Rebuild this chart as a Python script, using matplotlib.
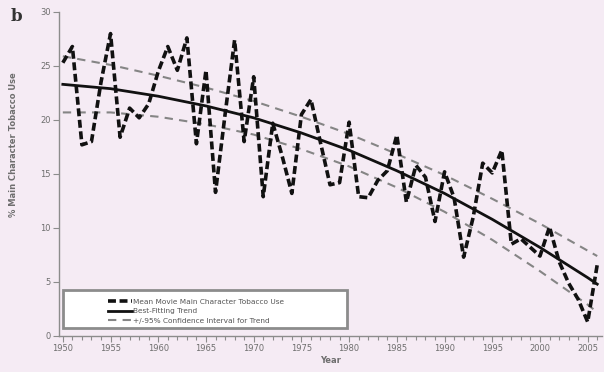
import matplotlib
matplotlib.use("Agg")
import matplotlib.pyplot as plt
from matplotlib.patches import Rectangle
from matplotlib.ticker import MultipleLocator

# Mean movie main character tobacco use (% of main characters), 1950-2006
years = list(range(1950, 2007))
tobacco_use = [
    25.3, 26.8, 17.7, 18.0, 23.5, 28.0, 18.4, 21.1, 20.2, 21.5,
    24.5, 26.8, 24.6, 27.6, 17.8, 24.6, 13.3, 20.5, 27.4, 18.0,
    24.0, 12.9, 19.7, 16.6, 13.2, 20.5, 21.9, 17.9, 14.0, 14.2,
    19.8, 12.9, 12.8, 14.4, 15.3, 18.6, 12.4, 15.8, 14.7, 10.6,
    15.2, 12.8, 7.3, 11.0, 16.0, 15.1, 17.2, 8.5, 9.0, 8.2,
    7.4, 10.1, 6.9, 4.9, 3.4, 1.3, 6.6,
]

# best-fitting trend and its 95% CI, read at a few years
trend_years = [1950, 1955, 1960, 1965, 1970, 1975, 1980, 1985, 1990, 1995, 2000, 2005, 2006]
trend = [23.3, 22.9, 22.2, 21.3, 20.2, 18.8, 17.2, 15.3, 13.2, 10.8, 8.2, 5.4, 4.8]
ci_upper = [25.9, 25.1, 24.1, 23.0, 21.75, 20.3, 18.7, 16.85, 14.9, 12.7, 10.4, 7.9, 7.4]
ci_lower = [20.7, 20.7, 20.3, 19.6, 18.65, 17.3, 15.7, 13.75, 11.5, 8.9, 6.0, 2.9, 2.2]

labels = [
    "Mean Movie Main Character Tobacco Use",
    "Best-Fitting Trend",
    "+/-95% Confidence Interval for Trend",
]

bg = "#f5ebf4"
grey = "#6e6e6e"

fig = plt.figure(figsize=(6.04, 3.72), dpi=100, facecolor=bg)
ax = fig.add_axes([0.0977, 0.0968, 0.899, 0.871])
ax.set_facecolor(bg)

# data, trend and confidence limits
l1, = ax.plot(years, tobacco_use, color="#111111", lw=2.6, ls=(0, (2.2, 1.0)),
              solid_capstyle="butt", dash_capstyle="butt", zorder=4)
l2, = ax.plot(trend_years, trend, color="#111111", lw=2.0, zorder=3)
l3, = ax.plot(trend_years, ci_upper, color="#858585", lw=1.5, ls=(0, (4, 3)), zorder=2)
ax.plot(trend_years, ci_lower, color="#858585", lw=1.5, ls=(0, (4, 3)), zorder=2)

ax.set_xlim(1949.6, 2006.5)
ax.set_ylim(0, 30)
ax.xaxis.set_major_locator(MultipleLocator(5))
ax.xaxis.set_minor_locator(MultipleLocator(1))
ax.yaxis.set_major_locator(MultipleLocator(5))

for side in ["top", "right"]:
    ax.spines[side].set_visible(False)
for side in ["left", "bottom"]:
    ax.spines[side].set_color("#8c8c8c")
    ax.spines[side].set_linewidth(1.0)

ax.tick_params(axis="both", which="major", length=4, width=0.8, color="#8c8c8c",
               labelsize=6, labelcolor=grey, pad=2)
ax.tick_params(axis="x", which="minor", length=3, width=0.8, color="#8c8c8c")

ax.set_xlabel("Year", fontsize=6, color=grey, fontweight="bold", labelpad=2)
ax.set_ylabel("% Main Character Tobacco Use", fontsize=6, color=grey, fontweight="bold")
ax.yaxis.set_label_coords(-0.075, 0.59)

# panel letter
fig.text(0.018, 0.955, "b", fontsize=12, fontweight="bold", family="DejaVu Serif",
         color="#333333", va="center")

# legend box (white with grey frame) and frameless legend inside it
box = Rectangle((0.0074, 0.025), 0.523, 0.117, transform=ax.transAxes,
                facecolor="white", edgecolor="#8c8c8c", lw=2.0, zorder=5)
ax.add_patch(box)
leg = ax.legend([l1, l2, l3], labels, loc="lower left", bbox_to_anchor=(0.08, 0.02),
                frameon=False, fontsize=5.3, handlelength=3.2, handletextpad=0.1,
                labelspacing=0.45, borderpad=0.3)
leg.set_zorder(6)
for t in leg.get_texts():
    t.set_color("#555555")

fig.savefig("out.png", dpi=100, facecolor=bg)
